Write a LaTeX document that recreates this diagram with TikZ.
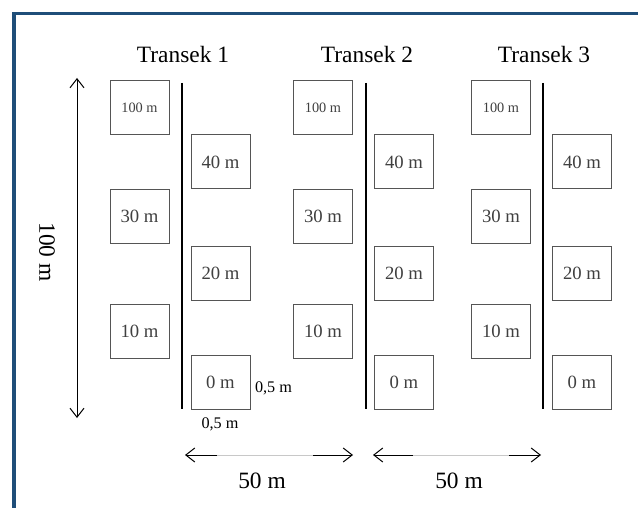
\documentclass[tikz,border=0pt]{standalone}
\usepackage{fontspec}
\setmainfont{Liberation Serif}
\usetikzlibrary{arrows.meta}
\definecolor{frameblue}{HTML}{1F4E79}
\definecolor{boxgray}{HTML}{555555}
\definecolor{txtgray}{HTML}{404040}
\definecolor{midgray}{HTML}{C8C8C8}
\tikzset{
  plot/.style={draw=boxgray, line width=1pt, minimum width=59pt, minimum height=54pt, inner sep=0pt,
    text=txtgray, font=\fontsize{18.7}{20}\selectfont},
  smallplot/.style={plot, font=\fontsize{14.3}{16}\selectfont},
  title/.style={anchor=base, font=\fontsize{23.4}{28}\selectfont, inner sep=0pt},
  dimlabel/.style={anchor=base, font=\fontsize{16.2}{18}\selectfont, inner sep=0pt},
  tline/.style={line width=2.2pt, black},
  dimarrow/.style={line width=1pt, black, {Straight Barb[length=9pt,width=14pt]}-{Straight Barb[length=9pt,width=14pt]}},
  halfarrow/.style={line width=1pt, black},
  barb/.style={-{Straight Barb[length=9pt,width=14pt]}},
}
\begin{document}
\begin{tikzpicture}[x=1pt,y=-1pt]
\useasboundingbox (0,0) rectangle (638,508);
\fill[white] (0,0) rectangle (638,508);
% frame
\fill[frameblue] (12,12) rectangle (638,15);
\fill[frameblue] (12,12) rectangle (16,508);

% titles
\node[title] (t1) at (183,63) {Transek 1};
\node[title] (t2) at (367,63) {Transek 2};
\node[title] (t3) at (544,63) {Transek 3};

% transect lines
\foreach \i/\x in {1/182,2/366,3/543}{
  \coordinate (l\i top) at (\x,83);
  \coordinate (l\i bot) at (\x,409);
  \draw[tline] (l\i top) -- (l\i bot);
}

% plots
\foreach \i/\lx/\rx in {1/139.5/220.5, 2/323/404, 3/501/582}{
  \node[smallplot] (p\i-100) at (\lx,107.5) {100 m};
  \node[plot] (p\i-30) at (\lx,216.5) {30 m};
  \node[plot] (p\i-10) at (\lx,331) {10 m};
  \node[plot] (p\i-40) at (\rx,162) {40 m};
  \node[plot] (p\i-20) at (\rx,273.5) {20 m};
  \node[plot] (p\i-0) at (\rx,382) {0 m};
}

% plot size labels
\node[dimlabel] (w1) at (273.5,392) {0,5 m};
\node[dimlabel] (w2) at (220,428) {0,5 m};

% vertical 100 m arrow
\coordinate (vtop) at (77,78);
\coordinate (vbot) at (77,418);
\draw[dimarrow] (vtop) -- (vbot);
\node[rotate=-90, font=\fontsize{23.4}{28}\selectfont, inner sep=0pt] (vlab) at (47,252) {100 m};

% horizontal 50 m arrows
\coordinate (a1l) at (185,455);
\coordinate (a1a) at (217,455);
\coordinate (a1b) at (313,455);
\coordinate (a1r) at (353,455);
\coordinate (a2l) at (373,455);
\coordinate (a2a) at (413,455);
\coordinate (a2b) at (509,455);
\coordinate (a2r) at (541,455);
\draw[midgray, line width=0.8pt] (a1a) -- (a1b);
\draw[midgray, line width=0.8pt] (a2a) -- (a2b);
\draw[halfarrow, barb] (a1a) -- (a1l);
\draw[halfarrow, barb] (a1b) -- (a1r);
\draw[halfarrow, barb] (a2a) -- (a2l);
\draw[halfarrow, barb] (a2b) -- (a2r);
\node[title] (d1) at (262,488) {50 m};
\node[title] (d2) at (459,488) {50 m};
\end{tikzpicture}
\end{document}
